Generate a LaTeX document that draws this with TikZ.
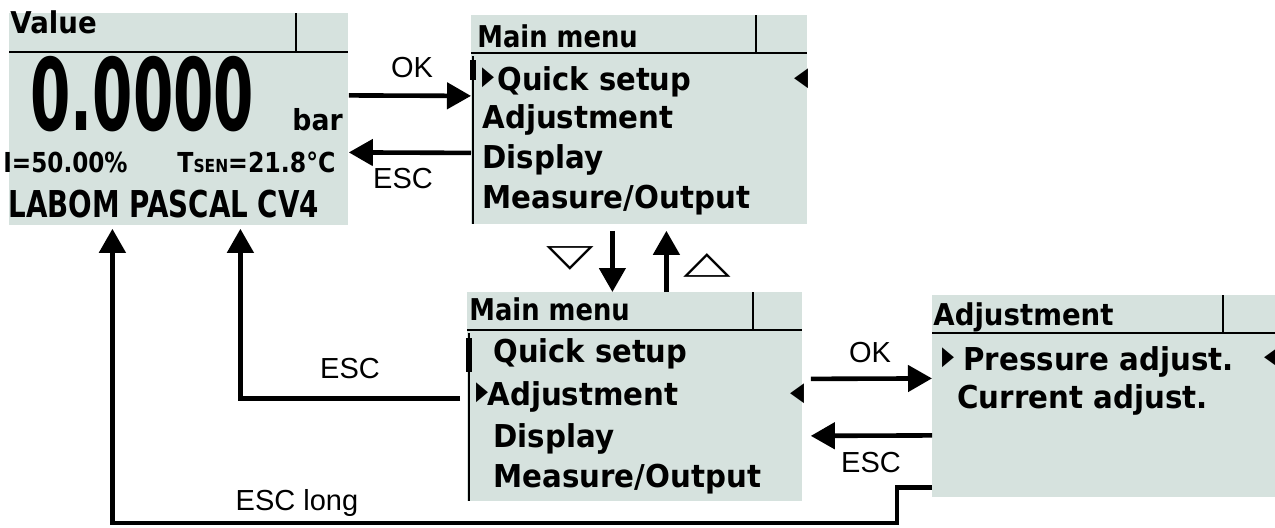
\documentclass[tikz,border=0pt]{standalone}
\usepackage{fontspec}
\usepackage{graphicx}
\setmainfont{Liberation Sans}
\newfontfamily\lcdfont{DejaVu Sans}
\newfontfamily\symfont{DejaVu Sans}
\usepackage{xcolor}
\usepackage{tikz}
\usetikzlibrary{arrows.meta,positioning}
\definecolor{lcdbg}{RGB}{214,226,222}
\newcommand{\nar}[2]{\scalebox{#1}[1]{#2}}

\begin{document}
\begin{tikzpicture}[x=0.5pt,y=-0.5pt,
  screen/.style={fill=lcdbg, inner sep=0pt, anchor=north west},
  hdr/.style={anchor=base west, inner sep=0pt, font=\lcdfont\bfseries\fontsize{15}{15}\selectfont},
  item/.style={anchor=base west, inner sep=0pt, font=\lcdfont\bfseries\fontsize{15.75}{16}\selectfont},
  selmark/.style={inner sep=0pt, font=\symfont\fontsize{13}{13}\selectfont},
  endmark/.style={inner sep=0pt, font=\symfont\fontsize{13}{13}\selectfont},
  key/.style={anchor=base, inner sep=0pt, font=\fontsize{14.5}{15}\selectfont},
  rule/.style={line width=1pt},
  arr/.style={line width=2.3pt, -{Triangle[length=12pt,width=13pt]}}]
\useasboundingbox (0,0) rectangle (1275,527);
\node[screen, minimum width=169.5pt, minimum height=106pt] (val) at (9,13) {};
\node[screen, minimum width=168pt, minimum height=104.5pt] (main1) at (471,15) {};
\node[screen, minimum width=167.5pt, minimum height=104.5pt] (main2) at (467,292) {};
\node[screen, minimum width=171.5pt, minimum height=101pt] (adj) at (932,295) {};
\foreach \l/\r/\t/\h/\d in {9/348/13/52/296, 471/807/15/53/756, 467/802/292/330/753, 932/1275/295/333/1223}
  \draw[rule] (\l,\h) -- (\r,\h) (\d,\t) -- (\d,\h);
\draw[rule] (473,56) -- (473,224);
\draw[line width=3pt] (473,60) -- (473,80);
\draw[rule] (469,333) -- (469,501);
\draw[line width=3pt] (469,338) -- (469,372);

\node[hdr] (valtitle) at (10,33) {\nar{.92}{Value}};
\node[anchor=base west, inner sep=0pt, font=\lcdfont\bfseries\fontsize{50}{50}\selectfont] (reading) at (30,130) {\nar{.58}{0.0000}};
\node[anchor=base west, inner sep=0pt, font=\lcdfont\bfseries\fontsize{14.5}{15}\selectfont] (unit) at (292,130) {\nar{.92}{bar}};
\node[anchor=base west, inner sep=0pt, font=\lcdfont\bfseries\fontsize{13.75}{14}\selectfont] (current) at (3,172) {\nar{.84}{I=50.00\%}};
\node[anchor=base west, inner sep=0pt, font=\lcdfont\bfseries\fontsize{13.75}{14}\selectfont] (tsen) at (177,172) {\nar{.86}{T{\fontsize{9}{9}\selectfont SEN}=21.8°C}};
\node[anchor=base west, inner sep=0pt, font=\lcdfont\bfseries\fontsize{18.5}{19}\selectfont] (device) at (8,217) {\nar{.75}{LABOM PASCAL CV4}};

\node[hdr] (m1title) at (477,47) {\nar{.86}{Main menu}};
\node[selmark] (m1sel) at (488,78) {\nar{.6}{▶}};
\node[item] (m1quick) at (497,90) {\nar{.92}{Quick setup}};
\node[item] (m1adj) at (482,128) {\nar{.93}{Adjustment}};
\node[item] (m1disp) at (482,168) {\nar{.93}{Display}};
\node[item] (m1meas) at (482,208) {\nar{.93}{Measure/Output}};
\node[endmark] (m1end) at (801,79) {\nar{.7}{◀}};

\node[hdr] (m2title) at (469,320) {\nar{.86}{Main menu}};
\node[item] (m2quick) at (493,362) {\nar{.92}{Quick setup}};
\node[selmark] (m2sel) at (482,393) {\nar{.6}{▶}};
\node[item] (m2adj) at (487,405) {\nar{.93}{Adjustment}};
\node[item] (m2disp) at (493,447) {\nar{.93}{Display}};
\node[item] (m2meas) at (493,487) {\nar{.93}{Measure/Output}};
\node[endmark] (m2end) at (797,394) {\nar{.7}{◀}};

\node[hdr] (adjtitle) at (933,325) {\nar{.92}{Adjustment}};
\node[selmark] (adjsel) at (948,358) {\nar{.6}{▶}};
\node[item] (adjpress) at (963,370) {\nar{.93}{Pressure adjust.}};
\node[item] (adjcurr) at (957,408) {\nar{.93}{Current adjust.}};
\node[endmark] (adjend) at (1271,358) {\nar{.7}{◀}};

\draw[arr] ([yshift=12pt]val.east) -- ([yshift=12pt]main1.west);
\draw[arr] ([yshift=-16.5pt]main1.west) -- ([yshift=-16.5pt]val.east);
\node[key] (ok1) at (412,77) {OK};
\node[key] (esc1) at (403,188) {ESC};

\draw[arr, shorten <=3pt] ([xshift=-13.5pt]main1.south) -- ([xshift=-11.25pt]main2.north);
\draw[arr, shorten >=3pt] ([xshift=15.75pt]main2.north) -- ([xshift=13.5pt]main1.south);
\node[font=\symfont\fontsize{31}{31}\selectfont, inner sep=0pt] (downkey) at (570,258) {\scalebox{1}[0.5]{▽}};
\node[font=\symfont\fontsize{31}{31}\selectfont, inner sep=0pt] (upkey) at (707,265) {\scalebox{1}[0.5]{△}};

\draw[arr, shorten <=4pt] ([yshift=9pt]main2.east) -- ([yshift=9pt]adj.west);
\draw[arr, shorten >=4pt] ([yshift=-19.5pt]adj.west) -- ([yshift=-19.5pt]main2.east);
\node[key] (ok2) at (870,362) {OK};
\node[key] (esc2) at (871,472) {ESC};

\draw[arr, shorten <=3.5pt, shorten >=1.5pt] ([yshift=-0.75pt]main2.west) -| ([xshift=30.75pt]val.south);
\node[key] (esc3) at (350,378) {ESC};

\coordinate (escbend) at (897,523);
\draw[arr, shorten >=1.5pt] ([yshift=-45.5pt]adj.west) -| (escbend) -| ([xshift=-33.25pt]val.south);
\node[key] (esclong) at (297,510) {ESC long};
\end{tikzpicture}
\end{document}
